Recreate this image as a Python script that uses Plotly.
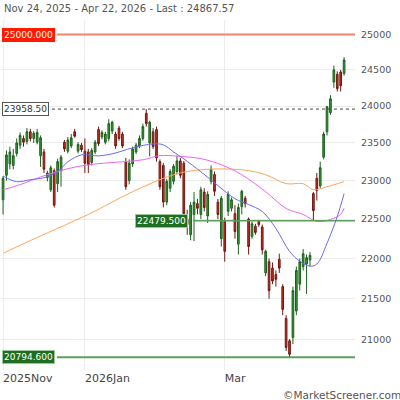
import math
import pandas as pd
import plotly.graph_objects as go

# ---- trading days (categories) ----
holidays = ["2025-12-24", "2025-12-25", "2025-12-26", "2025-12-31",
            "2026-01-01", "2026-04-03", "2026-04-06"]
dates = [d.strftime("%Y-%m-%d") for d in pd.bdate_range("2025-11-24", "2026-04-22")
         if d.strftime("%Y-%m-%d") not in holidays]

# ---- OHLC values ----
opens = [22750, 23070, 23220, 23200, 23360, 23470, 23560, 23520, 23650, 23560,
         23510, 23330, 23380, 23040, 22880, 23130, 22960, 23130, 23510, 23390,
         23460, 23650, 23390, 23470, 23390, 23380, 23240, 23380, 23680, 23580,
         23510, 23560, 23660, 23620, 23700, 23620, 23250, 23000, 23220, 23380,
         23460, 23560, 23900, 23500, 23650, 23680, 23250, 23200, 22720, 22900,
         22990, 23120, 23260, 23230, 22500, 22300, 22560, 22700, 22560, 22850,
         22540, 22990, 23080, 22720, 22250, 22470, 22600, 22640, 22570, 22180,
         22660, 22770, 22500, 22280, 22410, 22470, 22400, 21820, 21960, 21880,
         21800, 21990, 21650, 21260, 20990, 21030, 21350, 21680, 21900, 21930,
         21980, 22830, 23030, 22930, 23310, 23650, 23910, 24330, 24440, 24470,
         24450]
highs = [23060, 23400, 23450, 23420, 23560, 23640, 23600, 23700, 23690, 23660,
         23690, 23600, 23420, 23130, 23200, 23160, 23290, 23340, 23540, 23580,
         23620, 23690, 23510, 23500, 23560, 23420, 23430, 23540, 23720, 23670,
         23650, 23820, 23800, 23650, 23730, 23650, 23300, 23280, 23450, 23500,
         23600, 23760, 23958.5, 23800, 23700, 23720, 23280, 23230, 23020, 23150,
         23220, 23330, 23300, 23260, 22620, 22720, 22850, 22760, 22920, 22900,
         22860, 23200, 23120, 22760, 22800, 22520, 22860, 22780, 22680, 22700,
         22880, 22800, 22520, 22470, 22440, 22490, 22430, 22110, 22000, 21950,
         21850, 22060, 21680, 21300, 21010, 21650, 21900, 22000, 22120, 22050,
         22080, 22850, 23100, 23250, 23650, 24000, 24150, 24560, 24480, 24500,
         24680]
lows = [22560, 23000, 23150, 23150, 23320, 23420, 23450, 23480, 23520, 23500,
        23480, 23180, 23100, 22990, 22850, 22650, 22850, 22920, 23380, 23360,
        23430, 23570, 23360, 23380, 23100, 23100, 23200, 23350, 23460, 23550,
        23480, 23520, 23620, 23420, 23530, 23430, 22880, 22950, 23180, 23350,
        23430, 23530, 23720, 23320, 23420, 23250, 22880, 22650, 22680, 22850,
        22950, 23080, 23030, 22520, 22300, 22230, 22220, 22560, 22500, 22600,
        22450, 22950, 22800, 22500, 22150, 21960, 22540, 22600, 22250, 22050,
        22560, 22650, 22050, 22250, 22300, 22400, 22050, 21780, 21500, 21680,
        21650, 21820, 21300, 20870, 20794.6, 20950, 21300, 21600, 21850, 21560,
        21900, 22480, 22740, 22900, 23280, 23600, 23880, 24250, 24200, 24200,
        24420]
closes = [23030, 23340, 23380, 23330, 23500, 23600, 23510, 23650, 23560, 23630,
          23640, 23570, 23150, 23100, 23170, 22680, 23250, 23310, 23420, 23540,
          23570, 23590, 23480, 23410, 23230, 23210, 23400, 23510, 23490, 23640,
          23620, 23760, 23780, 23460, 23560, 23460, 22920, 23230, 23420, 23470,
          23560, 23720, 23760, 23780, 23450, 23300, 22920, 22720, 22990, 23120,
          23190, 23260, 23070, 22570, 22430, 22680, 22720, 22640, 22880, 22650,
          22820, 23150, 22860, 22560, 22770, 22090, 22820, 22750, 22340, 22650,
          22860, 22700, 22150, 22440, 22330, 22430, 22110, 22090, 21600, 21720,
          21740, 21880, 21370, 20910, 20830, 21600, 21850, 21960, 22060, 22010,
          22040, 22610, 22870, 23170, 23620, 23990, 24100, 24500, 24240, 24280,
          24640]

# ---- moving averages (sample points) ----
ma_short_idx = [0, 4, 8, 12, 16, 19, 23, 28, 32, 38, 44, 47, 50, 53, 58, 63, 68,
                72, 76, 80, 84, 87, 90, 92, 95, 98, 100]
ma_short_val = [23060, 22986, 23012, 23038, 23117, 23248, 23340, 23327, 23354,
                23434, 23487, 23474, 23380, 23287, 23117, 22934, 22764, 22688,
                22598, 22381, 22091, 21966, 21904, 21929, 22192, 22534, 22829]
ma_mid_idx = [0, 5, 12, 19, 25, 31, 41, 46, 52, 58, 64, 70, 77, 83, 88, 92, 96, 99, 100]
ma_mid_val = [22880, 22947, 23064, 23157, 23209, 23235, 23275, 23330, 23320,
              23290, 23209, 23077, 22855, 22637, 22560, 22470, 22496, 22560, 22640]
ma_long_idx = [0, 12, 25, 38, 50, 58, 70, 77, 83, 88, 91, 95, 100]
ma_long_val = [22066, 22305, 22560, 22855, 23077, 23143, 23143, 23077, 22960,
               22960, 22881, 22920, 22986]

# ---- levels and axis labels ----
level_resistance = 25000.0
level_high = 23958.50
level_support = 22479.500
level_low = 20794.600
y_ticks = [21000, 21500, 22000, 22500, 23000, 23500, 24000, 24500, 25000]
x_tick_dates = ["2025-11-24", "2026-01-02", "2026-03-02"]
x_tick_text = ["2025Nov", "2026Jan", "Mar"]
title_text = "Nov 24, 2025 - Apr 22, 2026 - Last : 24867.57"

FONT = "DejaVu Sans"
fig = go.Figure()

fig.add_trace(go.Candlestick(
    x=dates, open=opens, high=highs, low=lows, close=closes,
    increasing=dict(line=dict(color="#1f5f1f", width=1), fillcolor="#2f9e2f"),
    decreasing=dict(line=dict(color="#6e1a12", width=1), fillcolor="#cc2a1f"),
    whiskerwidth=0, hoverinfo="skip", showlegend=False))

for idx, vals, col in [(ma_long_idx, ma_long_val, "#ffa65a"),
                       (ma_mid_idx, ma_mid_val, "#ee66ee"),
                       (ma_short_idx, ma_short_val, "#6b6bf0")]:
    fig.add_trace(go.Scatter(x=[dates[i] for i in idx], y=vals, mode="lines",
                             line=dict(color=col, width=1, shape="spline", smoothing=1.0),
                             hoverinfo="skip", showlegend=False))

# level lines
fig.add_shape(type="line", xref="paper", yref="y", x0=0.158, x1=1,
              y0=level_resistance, y1=level_resistance,
              line=dict(color="#f4836f", width=2))
fig.add_shape(type="line", xref="paper", yref="y", x0=0.144, x1=1,
              y0=level_high, y1=level_high,
              line=dict(color="#444444", width=1, dash="dot"))
fig.add_shape(type="line", xref="paper", yref="y", x0=0.542, x1=1,
              y0=level_support, y1=level_support,
              line=dict(color="#5c9e5c", width=1.5))
fig.add_shape(type="line", xref="paper", yref="y", x0=0.158, x1=1,
              y0=level_low, y1=level_low,
              line=dict(color="#5c9e5c", width=2))

def lab(text, level, xp, bg, fg, border):
    fig.add_annotation(text=text, xref="paper", yref="y", x=xp, y=math.log10(level),
                       xanchor="left", yanchor="middle", showarrow=False,
                       font=dict(family=FONT, size=9, color=fg),
                       bgcolor=bg, bordercolor=border, borderwidth=1, borderpad=1)

lab(f"{level_resistance:.3f}", level_resistance, 0.003, "#ff1a00", "white", "#ff1a00")
lab(f"{level_high:.2f}", level_high, 0.003, "white", "#333333", "#555555")
lab(f"{level_support:.3f}", level_support, 0.379, "#1f6e1f", "white", "#9cc79c")
lab(f"{level_low:.3f}", level_low, 0.003, "#1f6e1f", "white", "#9cc79c")

fig.add_annotation(text=title_text, xref="paper", yref="paper", x=0.003, y=1.034,
                   xanchor="left", yanchor="middle", showarrow=False,
                   font=dict(family=FONT, size=10, color="#555555"))
fig.add_annotation(text="©MarketScreener.com", xref="paper", yref="paper",
                   x=0.792, y=-0.072, xanchor="left", yanchor="middle", showarrow=False,
                   font=dict(family=FONT, size=10.5, color="#555555"))

fig.update_layout(
    width=400, height=400,
    margin=dict(l=1, r=45, t=20, b=30),
    paper_bgcolor="white", plot_bgcolor="white",
    showlegend=False,
    font=dict(family=FONT),
    xaxis=dict(type="category", range=[-0.6, 103.2], tickvals=x_tick_dates,
               ticktext=x_tick_text, showgrid=True, gridcolor="#ececec",
               ticks="", zeroline=False, showline=False,
               rangeslider=dict(visible=False), ticklabelposition="outside right",
               tickfont=dict(family=FONT, size=11, color="#444444")),
    yaxis=dict(type="log", range=[4.31478, 4.40154], side="right",
               tickvals=y_ticks, ticktext=[str(v) for v in y_ticks],
               showgrid=True, gridcolor="#ececec", ticks="", zeroline=False,
               showline=False, ticklabelstandoff=5,
               tickfont=dict(family=FONT, size=9.5, color="#555555")),
)

fig.write_html("out.html", config={"displayModeBar": False},
               post_script="document.body.style.margin='0';document.body.style.overflow='hidden';")
